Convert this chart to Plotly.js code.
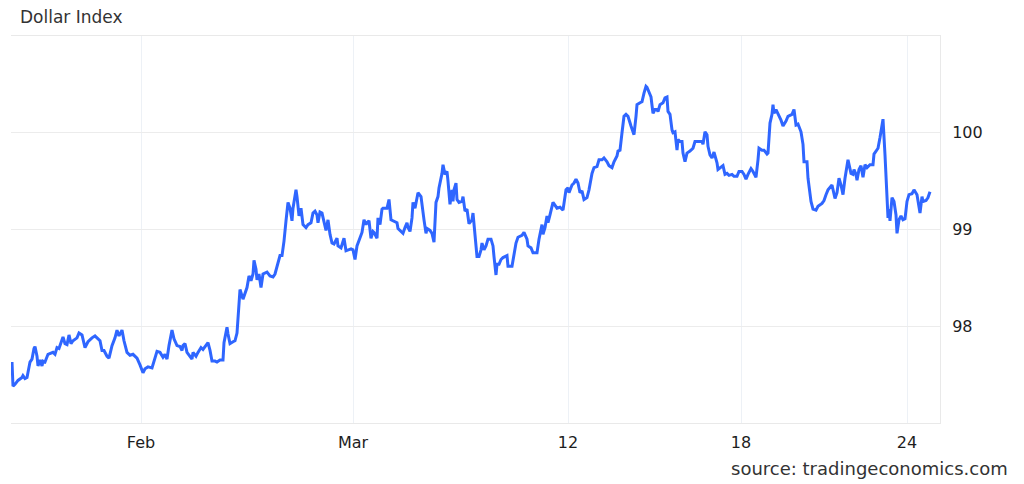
<!DOCTYPE html>
<html>
<head>
<meta charset="utf-8">
<script src="https://cdn.plot.ly/plotly-3.0.1.min.js"></script>
<style>
html,body{margin:0;padding:0;background:#fff;}
#chart{width:1024px;height:484px;}
</style>
</head>
<body>
<div id="chart"></div>
<script>
// Trading-session position (sequence along the session axis) and Dollar Index level
const session = [
1,2,4,7,11,12,14,16,19,21,23,24,26,27,29,31,32,34,37,41,42,44,46,48,51,52,54,56,58,60,62,64,66,68,71,74,77,81,84,86,89,91,93,96,98,101,104,106,108,111,113,116,119,122,126,129,132,134,137,141,144,146,149,152,154,156,158,161,163,166,169,171,172,174,176,179,181,182,185,187,190,192,195,197,199,201,204,206,209,212,213,216,217,219,222,224,226,227,
229,232,236,238,240,242,243,245,246,248,250,252,254,256,259,262,264,266,269,271,273,275,277,279,281,282,285,286,288,290,292,295,297,300,302,304,306,307,309,311,313,315,317,319,321,323,326,327,330,332,333,335,337,340,342,344,346,349,351,353,355,356,358,360,362,363,366,367,369,371,372,376,378,380,382,386,387,390,392,394,396,397,399,
401,402,404,406,407,410,412,413,415,416,419,421,423,425,427,428,431,432,434,436,437,439,441,442,443,445,446,448,451,452,454,456,458,461,462,464,466,468,470,471,473,475,477,480,482,483,485,486,488,490,492,496,497,501,503,505,507,511,513,516,517,520,522,526,528,531,532,534,536,537,539,541,542,546,549,552,553,555,557,558,561,563,565,567,569,571,573,576,578,581,583,586,588,591,593,596,598,601,603,606,607,609,611,613,615,617,620,622,623,625,626,629,631,633,635,636,638,640,642,644,646,647,649,652,654,656,657,659,661,662,664,666,667,669,671,672,674,676,679,682,684,687,691,692,694,696,697,699,701,703,706,707,710,712,714,716,718,721,723,726,728,731,733,735,737,740,742,745,747,748,751,753,756,757,759,761,762,763,765,767,770,772,775,777,
781,783,785,787,790,792,793,796,797,800,802,805,807,811,813,815,817,821,822,824,826,828,830,832,834,836,837,840,842,843,845,846,848,850,852,854,856,859,862,863,866,867,869,871,872,874,876,877,878,879,881,883,885,886,888,890,892,894,896,898,901,903,906,907,909,911,912,915,917,919
];
const dxy = [
97.63,97.38,97.40,97.44,97.47,97.49,97.46,97.47,97.63,97.66,97.77,97.79,97.69,97.59,97.65,97.59,97.64,97.63,97.71,97.73,97.73,97.71,97.78,97.77,97.85,97.89,97.82,97.81,97.91,97.82,97.85,97.87,97.88,97.93,97.91,97.78,97.84,97.88,97.90,97.88,97.85,97.75,97.75,97.69,97.67,97.80,97.88,97.96,97.90,97.96,97.85,97.73,97.70,97.71,97.67,97.60,97.52,97.56,97.58,97.57,97.69,97.74,97.73,97.68,97.71,97.66,97.80,97.96,97.87,97.80,97.79,97.75,97.80,97.82,97.73,97.69,97.66,97.73,97.69,97.73,97.78,97.76,97.81,97.83,97.75,97.64,97.64,97.63,97.65,97.65,97.83,97.99,97.92,97.82,97.84,97.85,97.93,98.07,
98.38,98.28,98.40,98.52,98.47,98.54,98.68,98.59,98.48,98.54,98.40,98.54,98.55,98.56,98.52,98.51,98.54,98.61,98.73,98.73,98.88,99.09,99.28,99.22,99.09,99.22,99.41,99.34,99.14,99.22,99.05,99.02,99.05,99.07,99.17,99.19,99.15,99.07,99.18,99.17,99.09,98.99,99.10,98.95,98.86,98.85,98.91,98.83,98.81,98.88,98.91,98.78,98.79,98.80,98.79,98.69,98.83,98.91,98.97,99.10,99.05,99.07,99.09,98.91,98.98,98.97,98.91,99.12,99.05,99.21,99.22,99.22,99.31,99.10,99.09,99.07,99.01,98.98,98.96,99.02,99.07,99.02,98.98,
99.12,99.28,99.22,99.34,99.38,99.34,99.21,99.10,98.96,99.01,98.99,98.96,98.87,99.28,99.34,99.43,99.58,99.67,99.57,99.60,99.50,99.26,99.41,99.29,99.41,99.48,99.31,99.28,99.29,99.34,99.19,99.21,99.06,99.10,99.17,98.95,98.72,98.72,98.79,98.86,98.79,98.83,98.90,98.90,98.83,98.72,98.53,98.64,98.64,98.69,98.71,98.73,98.62,98.62,98.76,98.86,98.92,98.94,98.97,98.90,98.83,98.81,98.76,98.76,98.90,99.05,98.95,99.02,99.14,99.07,99.15,99.26,99.28,99.22,99.23,99.20,99.28,99.41,99.43,99.38,99.46,99.48,99.52,99.48,99.38,99.40,99.31,99.33,99.41,99.58,99.64,99.65,99.72,99.72,99.74,99.70,99.66,99.64,99.70,99.76,99.81,99.82,100.00,100.17,100.19,100.17,100.07,100.01,99.98,100.17,100.29,100.31,100.32,100.41,100.48,100.47,100.41,100.37,100.20,100.24,100.24,100.22,100.29,100.31,100.36,100.37,100.22,100.19,100.03,100.00,100.01,99.82,99.93,99.91,99.91,99.79,99.70,99.79,99.81,99.84,99.91,99.91,99.91,99.88,100.01,99.98,99.86,99.77,99.74,99.80,99.69,99.62,99.64,99.66,99.57,99.58,99.56,99.57,99.55,99.55,99.60,99.60,99.57,99.52,99.57,99.63,99.60,99.54,99.72,99.84,99.82,99.82,99.78,99.79,100.10,100.19,100.29,100.20,100.24,100.20,100.13,100.07,100.12,100.17,
100.19,100.24,100.08,100.09,100.01,99.88,99.70,99.70,99.53,99.29,99.21,99.20,99.24,99.27,99.30,99.36,99.41,99.46,99.41,99.32,99.38,99.53,99.46,99.36,99.53,99.66,99.72,99.58,99.57,99.62,99.57,99.51,99.62,99.66,99.54,99.67,99.64,99.67,99.67,99.78,99.83,99.84,99.95,100.07,100.14,99.77,99.36,99.12,99.21,99.09,99.33,99.29,99.15,98.96,99.10,99.14,99.10,99.11,99.29,99.36,99.37,99.41,99.36,99.30,99.17,99.34,99.29,99.30,99.33,99.39
];
const tickPositions = [130, 342, 557, 730, 896];
const tickLabels = ['Feb', 'Mar', '12', '18', '24'];
const yTicks = [98, 99, 100];

const FONT = 'DejaVu Sans, Liberation Sans, Arial, sans-serif';

const trace = {
  x: session,
  y: dxy,
  type: 'scatter',
  mode: 'lines',
  line: {color: '#2f66ff', width: 3, shape: 'linear'},
  hoverinfo: 'skip'
};

const layout = {
  width: 1024,
  height: 484,
  margin: {l: 11, r: 84, t: 36, b: 61, pad: 0},
  paper_bgcolor: '#ffffff',
  plot_bgcolor: '#ffffff',
  showlegend: false,
  title: {
    text: 'Dollar Index',
    font: {family: FONT, size: 17, color: '#333333'},
    xref: 'container', x: 20/1024, xanchor: 'left',
    yref: 'container', y: 1 - 17/484, yanchor: 'middle'
  },
  xaxis: {
    type: 'linear',
    range: [0, 929],
    tickmode: 'array',
    tickvals: tickPositions,
    ticktext: tickLabels,
    showgrid: true,
    gridcolor: '#edf1f6',
    gridwidth: 1,
    zeroline: false,
    showline: true,
    linecolor: '#e9e9e9',
    linewidth: 1,
    mirror: true,
    ticks: 'outside',
    ticklen: 5,
    tickcolor: 'rgba(0,0,0,0)',
    tickfont: {family: FONT, size: 16, color: '#1e1e1e'},
    fixedrange: true
  },
  yaxis: {
    side: 'right',
    range: [97, 101],
    tickmode: 'array',
    tickvals: yTicks,
    ticktext: yTicks.map(String),
    showgrid: true,
    gridcolor: '#ececec',
    gridwidth: 1,
    zeroline: false,
    showline: true,
    linecolor: '#e9e9e9',
    linewidth: 1,
    ticks: 'outside',
    ticklen: 8,
    tickcolor: 'rgba(0,0,0,0)',
    tickfont: {family: FONT, size: 16, color: '#1e1e1e'},
    fixedrange: true
  },
  annotations: [{
    text: 'source: tradingeconomics.com',
    xref: 'paper', yref: 'paper',
    x: (1010 - 11) / 929, xanchor: 'right',
    y: -(468 - 423) / 387, yanchor: 'middle',
    showarrow: false,
    font: {family: FONT, size: 18, color: '#333333'}
  }]
};

Plotly.newPlot('chart', [trace], layout, {displayModeBar: false, staticPlot: true});
</script>
</body>
</html>
